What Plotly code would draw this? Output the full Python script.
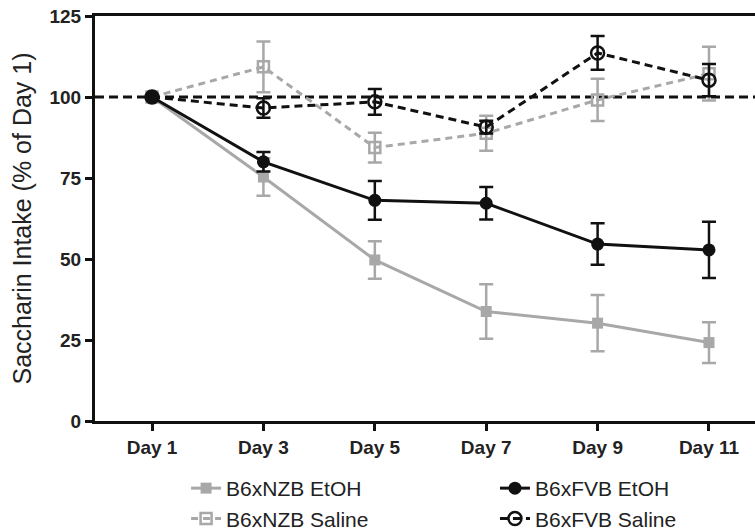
import plotly.graph_objects as go

days = ["Day 1", "Day 3", "Day 5", "Day 7", "Day 9", "Day 11"]
xpos = [0, 1, 2, 3, 4, 5]

nzb_etoh = [100, 75.3, 49.7, 33.8, 30.2, 24.2]
nzb_etoh_err = [0, 5.8, 5.8, 8.4, 8.7, 6.3]
nzb_saline = [100, 109.3, 84.4, 88.8, 99.1, 107.2]
nzb_saline_err = [0, 7.8, 4.6, 5.4, 6.5, 8.3]
fvb_etoh = [100, 80.0, 68.1, 67.2, 54.6, 52.8]
fvb_etoh_err = [0, 3.0, 6.0, 5.0, 6.4, 8.7]
fvb_saline = [100, 96.6, 98.5, 90.7, 113.6, 105.2]
fvb_saline_err = [0, 3.0, 4.0, 2.0, 5.2, 5.0]

GRAY = "#a8a8a8"
BLACK = "#111111"
FONT = "Liberation Sans, Arial, sans-serif"

fig = go.Figure()

# reference line at 100%
fig.add_shape(type="line", xref="paper", yref="y", x0=0, x1=1, y0=100, y1=100,
              line=dict(color=BLACK, width=3, dash="9px,5px"), layer="below")

fig.add_trace(go.Scatter(
    x=xpos, y=nzb_etoh, name="B6xNZB EtOH", mode="lines+markers", legend="legend",
    line=dict(color=GRAY, width=3),
    marker=dict(symbol="square", size=11, color=GRAY),
    error_y=dict(type="data", array=nzb_etoh_err, color=GRAY, thickness=2.5, width=7),
))
fig.add_trace(go.Scatter(
    x=xpos, y=nzb_saline, name="B6xNZB Saline", mode="lines+markers", legend="legend",
    line=dict(color=GRAY, width=3, dash="7px,5px"),
    marker=dict(symbol="square-open", size=11, color=GRAY, line=dict(width=2.5, color=GRAY)),
    error_y=dict(type="data", array=nzb_saline_err, color=GRAY, thickness=2.5, width=7),
))
fig.add_trace(go.Scatter(
    x=xpos, y=fvb_etoh, name="B6xFVB EtOH", mode="lines+markers", legend="legend2",
    line=dict(color=BLACK, width=3),
    marker=dict(symbol="circle", size=13, color=BLACK),
    error_y=dict(type="data", array=fvb_etoh_err, color=BLACK, thickness=2.5, width=7),
))
fig.add_trace(go.Scatter(
    x=xpos, y=fvb_saline, name="B6xFVB Saline", mode="lines+markers", legend="legend2",
    line=dict(color=BLACK, width=3, dash="8px,5px"),
    marker=dict(symbol="circle-open", size=13, color=BLACK, line=dict(width=2.5, color=BLACK)),
    error_y=dict(type="data", array=fvb_saline_err, color=BLACK, thickness=2.5, width=7),
))

legend_common = dict(orientation="v", yanchor="top", xanchor="left", tracegroupgap=0,
                     font=dict(size=21, color="#222222", family=FONT),
                     bgcolor="rgba(0,0,0,0)", itemwidth=30, borderwidth=0)

fig.update_layout(
    width=755, height=531,
    margin=dict(l=95, r=0, t=16, b=110, autoexpand=False),
    paper_bgcolor="white", plot_bgcolor="white",
    font=dict(family=FONT, color=BLACK),
    showlegend=True,
    legend=dict(x=0.138, y=-0.116, **legend_common),
    legend2=dict(x=0.606, y=-0.116, **legend_common),
)

fig.update_xaxes(
    range=[-0.512, 5.413], tickmode="array", tickvals=xpos, ticktext=days,
    showline=True, linecolor=BLACK, linewidth=3, mirror=True,
    ticks="outside", ticklen=7, tickwidth=3, tickcolor=BLACK,
    showgrid=False, zeroline=False,
    tickfont=dict(size=19, family=FONT, weight="bold", color="#222222"),
)
fig.update_yaxes(
    range=[0, 125], tickmode="array", tickvals=[0, 25, 50, 75, 100, 125],
    showline=True, linecolor=BLACK, linewidth=3,
    ticks="outside", ticklen=7, tickwidth=3, tickcolor=BLACK,
    showgrid=False, zeroline=False,
    tickfont=dict(size=19, weight="bold", color="#222222"),
    title=dict(text="Saccharin Intake (% of Day 1)", font=dict(size=25, color="#222222"), standoff=11),
)

fig.write_html("out.html")
